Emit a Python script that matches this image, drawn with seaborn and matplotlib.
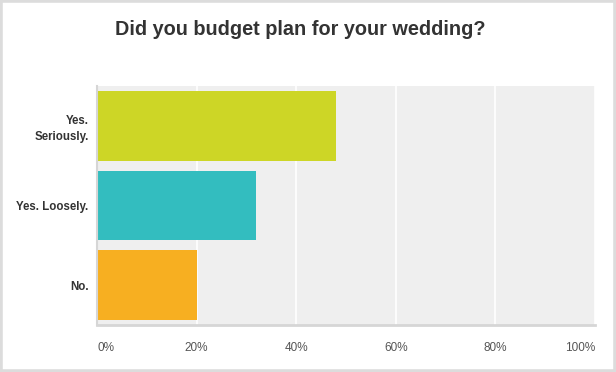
import pandas as pd
import matplotlib.pyplot as plt
import seaborn as sns
from matplotlib.patches import Rectangle
from matplotlib.ticker import FuncFormatter

# data
answers = ['Yes.\nSeriously.', 'Yes. Loosely.', 'No.']
percents = [48, 32, 20]
colors = ['#CDD626', '#33BDBF', '#F7AF21']

df = pd.DataFrame({'answer': answers, 'pct': percents})

sns.set_style('white')
plt.rcParams['font.family'] = ['Liberation Sans', 'DejaVu Sans']

fig = plt.figure(figsize=(6.16, 3.72), dpi=100)
ax = fig.add_axes([0.1575, 0.1263, 0.8084, 0.6425])
ax.set_facecolor('#EFEFEF')

sns.barplot(data=df, y='answer', x='pct', hue='answer', palette=colors,
            order=answers, width=0.875, legend=False, ax=ax, saturation=1,
            linewidth=0)

ax.set_xlim(0, 100)
ax.set_ylim(2.5, -0.5)
ax.set_xticks([0, 20, 40, 60, 80, 100])
ax.xaxis.set_major_formatter(FuncFormatter(lambda v, p: '%d%%' % v))
ax.grid(axis='x', color='white', linewidth=1.2)
ax.set_axisbelow(True)
ax.set_xlabel('')
ax.set_ylabel('')

for s in ['top', 'right']:
    ax.spines[s].set_visible(False)
ax.spines['left'].set_color('#D6D6D6')
ax.spines['bottom'].set_color('#D6D6D6')
ax.spines['left'].set_linewidth(1.5)
ax.spines['bottom'].set_linewidth(2)

ax.tick_params(axis='x', length=0, pad=12, labelsize=8.5, labelcolor='#555555')
ax.tick_params(axis='y', length=0, pad=6, labelsize=8.3, labelcolor='#333333')
for lbl in ax.get_yticklabels():
    lbl.set_fontweight('semibold')
    lbl.set_linespacing(1.4)
    lbl.set_multialignment('right')
xl = ax.get_xticklabels()
xl[0].set_horizontalalignment('left')
xl[-1].set_horizontalalignment('right')

fig.text(0.487, 0.922, 'Did you budget plan for your wedding?', ha='center', va='center',
         fontsize=14.3, fontweight='bold', color='#333333')

# light frame around the whole card
fig.patches.append(Rectangle((0, 0), 1, 1, transform=fig.transFigure, fill=False,
                             edgecolor='#DCDCDC', linewidth=4, zorder=10))

fig.savefig('out.png', dpi=100)
